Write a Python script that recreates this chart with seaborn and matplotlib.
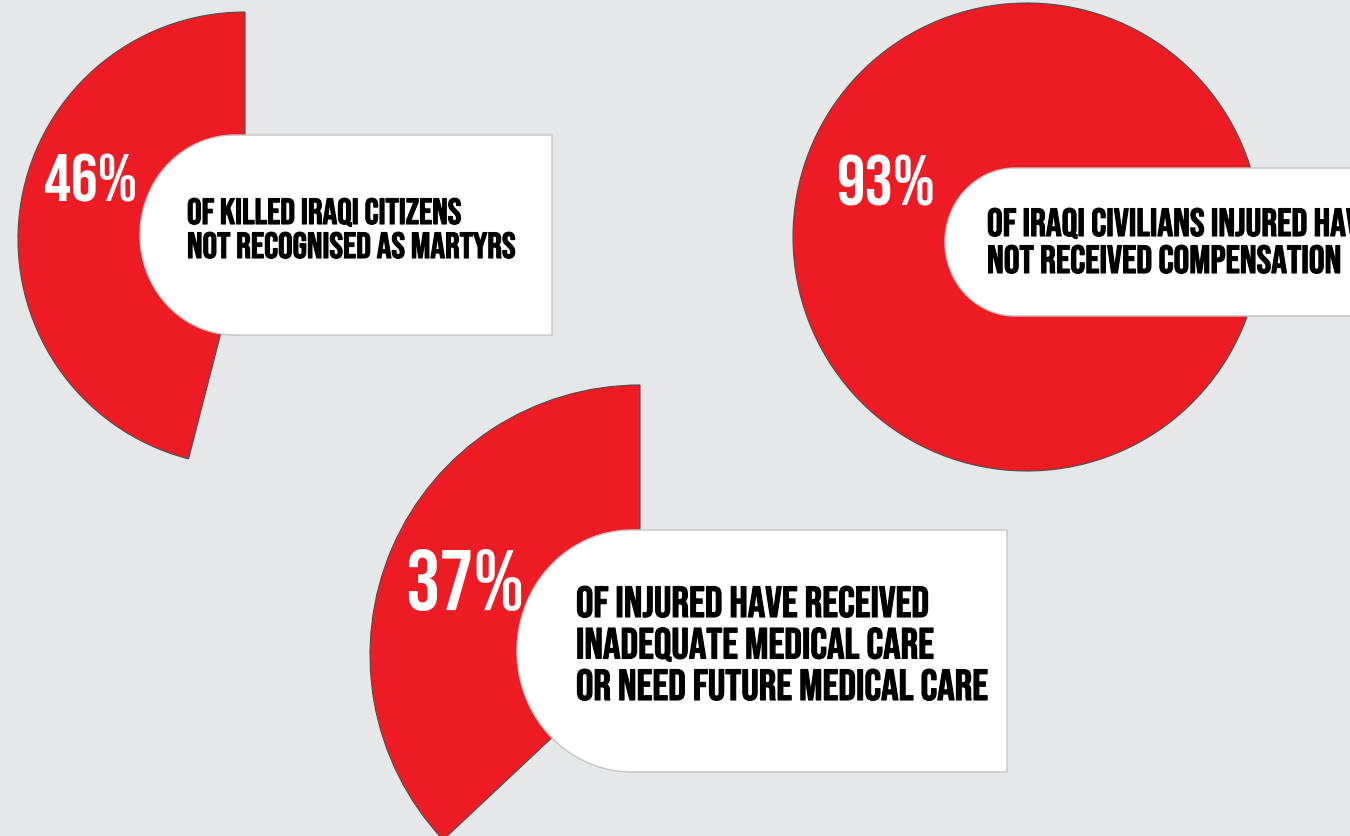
import numpy as np
import matplotlib
matplotlib.use('Agg')
import matplotlib.pyplot as plt
import matplotlib.patheffects as pe
from matplotlib.patches import Polygon
from matplotlib import font_manager
import seaborn as sns

# Data
percents = [46, 93, 37]
pct_labels = ['46%', '93%', '37%']
descriptions = [
    ['OF KILLED IRAQI CITIZENS', 'NOT RECOGNISED AS MARTYRS'],
    ['OF IRAQI CIVILIANS INJURED HAVE', 'NOT RECEIVED COMPENSATION'],
    ['OF INJURED HAVE RECEIVED', 'INADEQUATE MEDICAL CARE', 'OR NEED FUTURE MEDICAL CARE'],
]

# Layout in pixels, y measured from the top of the picture
W, H = 1350, 836
pie_centers = [(245, 239), (1027, 237), (640, 655)]
pie_radii = [227, 234, 270]
start_angles = [90, 12.6, 90]
boxes = [(140, 552, 135, 335), (945, 1380, 168, 316), (517, 1007, 530, 772)]
# x, baseline, cap height
pct_pos = [(44, 202, 47), (837, 205, 50), (405, 610, 60)]
# x, first baseline, line step, cap height
desc_pos = [(187, 224, 34, 25.5), (987, 236, 37, 27.5), (576, 617, 41.5, 30.5)]

bg = '#e6e7e9'
red = '#ed1c24'

sns.set_theme(style='white', rc={'figure.facecolor': bg, 'axes.facecolor': bg})

cap_ratio = {'Bebas Neue': 0.70, 'Oswald': 0.81, 'Roboto': 0.711}
available = {f.name for f in font_manager.fontManager.ttflist}
font = next((f for f in cap_ratio if f in available), 'Roboto')
plt.rcParams['font.family'] = [font, 'DejaVu Sans']
weight = 'normal' if font == 'Bebas Neue' else 'bold'


def pt(cap_px):
    # font size in points that gives the wanted cap height in pixels
    return cap_px / cap_ratio.get(font, 0.72) * 72 / 100


fig = plt.figure(figsize=(W / 100, H / 100), dpi=100)
ax = fig.add_axes([0, 0, 1, 1])

# pies (y flipped so the chart reads top-down)
for p, (cx, cy), r, sa in zip(percents, pie_centers, pie_radii, start_angles):
    wedges, _ = ax.pie([p, 100 - p], center=(cx, H - cy), radius=r,
                       startangle=sa, counterclock=True, colors=[red, 'none'],
                       wedgeprops=dict(edgecolor='#4d4d4d', linewidth=0.8))
    wedges[1].set_visible(False)
    wedges[0].set_zorder(1)

# white label boxes with rounded left end
for x0, x1, top, bottom in boxes:
    ry = (bottom - top) / 2
    rx = ry * 0.95
    cy = H - (top + bottom) / 2
    t = np.linspace(np.pi / 2, 3 * np.pi / 2, 80)
    arc = np.column_stack([x0 + rx + rx * np.cos(t), cy + ry * np.sin(t)])
    pts = np.vstack([[[x1, H - top]], arc, [[x1, H - bottom]]])
    ax.add_patch(Polygon(pts, closed=True, facecolor='white',
                         edgecolor='#c4c4c4', linewidth=1, zorder=2))

for lab, (x, y, cap) in zip(pct_labels, pct_pos):
    ax.text(x, H - y, lab, color='white', fontsize=pt(cap), fontweight=weight,
            ha='left', va='baseline', zorder=3)

heavy = [pe.withStroke(linewidth=0.8, foreground='black')]
for lines, (x, y, step, cap) in zip(descriptions, desc_pos):
    for i, line in enumerate(lines):
        ax.text(x, H - (y + i * step), line, color='black', fontsize=pt(cap),
                fontweight=weight, ha='left', va='baseline', zorder=3,
                path_effects=heavy)

ax.set_xlim(0, W)
ax.set_ylim(0, H)
ax.set_aspect('equal')
ax.axis('off')

fig.savefig('out.png', dpi=100, facecolor=bg)
